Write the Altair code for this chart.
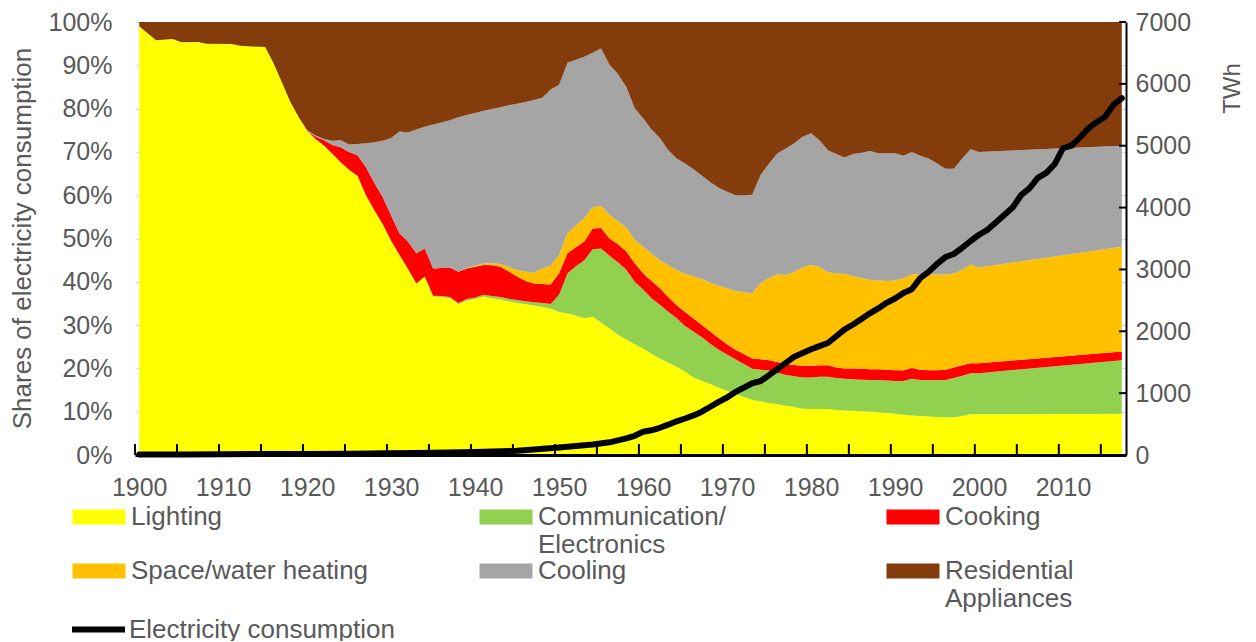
import altair as alt
import pandas as pd

# ---------------- data ----------------
years = [1900, 1902, 1904, 1905, 1907, 1908, 1911, 1912, 1915, 1916, 1917, 1918, 1919,
         1920, 1921, 1922, 1923, 1924, 1925, 1926, 1927, 1928, 1929,
         1930, 1931, 1932, 1933, 1934, 1935, 1936, 1937, 1938, 1939,
         1940, 1941, 1942, 1943, 1944, 1945, 1946, 1947, 1948, 1949,
         1950, 1951, 1952, 1953, 1954, 1955, 1956, 1957, 1958, 1959,
         1960, 1961, 1962, 1963, 1964, 1965, 1966, 1967, 1968, 1969,
         1970, 1971, 1972, 1973, 1974, 1975, 1976, 1977, 1978, 1979,
         1980, 1981, 1982, 1983, 1984, 1985, 1986, 1987, 1988, 1989,
         1990, 1991, 1992, 1993, 1994, 1995, 1996, 1997, 1998, 1999,
         2000, 2017]

lighting = [99.0, 95.8, 96.1, 95.3, 95.4, 95.0, 94.9, 94.5, 94.2, 90.5, 86.0, 81.5, 78.0,
            74.8, 73.0, 71.5, 69.6, 67.6, 65.8, 64.5, 60.0, 56.5, 53.3,
            49.5, 46.2, 43.0, 39.6, 41.2, 36.6, 36.5, 36.2, 34.8, 35.6,
            36.0, 36.6, 36.2, 35.9, 35.5, 35.1, 34.8, 34.5, 34.2, 33.8,
            33.0, 32.7, 32.2, 31.6, 31.9, 30.6, 29.3, 27.8, 26.7, 25.6,
            24.6, 23.4, 22.3, 21.3, 20.4, 19.2, 17.9, 17.1, 16.4, 15.6,
            14.8, 14.1, 13.4, 12.7, 12.4, 12.0, 11.7, 11.4, 11.1, 10.7,
            10.6, 10.6, 10.6, 10.4, 10.3, 10.2, 10.1, 10.0, 9.9, 9.7,
            9.5, 9.3, 9.1, 9.0, 8.9, 8.8, 8.7, 8.7, 9.0, 9.4,
            9.4, 9.5]

communication = [0, 0, 0, 0, 0, 0, 0, 0, 0, 0, 0, 0, 0,
                 0, 0, 0, 0, 0, 0, 0, 0, 0, 0,
                 0, 0, 0, 0, 0, 0.2, 0.2, 0.3, 0.3, 0.4,
                 0.4, 0.4, 0.5, 0.6, 0.6, 0.7, 0.7, 0.8, 0.9, 1.1,
                 4.0, 9.3, 11.4, 13.4, 15.6, 17.1, 16.7, 16.7, 16.1, 14.4,
                 13.6, 12.8, 12.4, 11.8, 11.2, 10.6, 10.6, 10.1, 9.3, 8.7,
                 8.4, 8.0, 7.6, 7.2, 7.3, 7.5, 7.3, 7.1, 7.1, 7.2,
                 7.3, 7.5, 7.5, 7.4, 7.3, 7.3, 7.3, 7.3, 7.4, 7.5,
                 7.6, 7.8, 8.5, 8.3, 8.4, 8.5, 8.6, 9.1, 9.3, 9.5,
                 9.5, 12.4]

cooking = [0, 0, 0, 0, 0, 0, 0, 0, 0, 0, 0, 0, 0,
           0, 0.5, 1.2, 2.0, 3.5, 4.2, 4.7, 6.5, 6.3, 6.3,
           5.8, 5.0, 6.3, 7.0, 6.5, 6.3, 6.5, 6.8, 7.2, 7.1,
           7.1, 6.9, 7.1, 7.0, 6.3, 5.4, 4.7, 4.3, 4.4, 4.5,
           5.0, 4.6, 4.4, 4.3, 4.8, 4.7, 4.0, 4.2, 4.2, 4.3,
           3.8, 4.0, 3.8, 3.4, 3.0, 3.2, 3.0, 2.8, 2.8, 2.7,
           2.4, 2.2, 2.3, 2.4, 2.4, 2.4, 2.5, 2.5, 2.6, 2.7,
           2.7, 2.6, 2.6, 2.4, 2.4, 2.5, 2.5, 2.5, 2.5, 2.5,
           2.5, 2.5, 2.5, 2.4, 2.3, 2.3, 2.4, 2.4, 2.4, 2.3,
           2.3, 2.0]

heating = [0, 0, 0, 0, 0, 0, 0, 0, 0, 0, 0, 0, 0,
           0, 0, 0, 0, 0, 0, 0, 0, 0, 0,
           0, 0, 0, 0, 0, 0, 0, 0, 0, 0.1,
           0.2, 0.3, 0.5, 0.6, 1.0, 1.5, 2.1, 2.5, 3.6, 4.3,
           4.2, 4.6, 5.0, 5.4, 4.9, 5.1, 5.5, 5.3, 5.5, 5.4,
           6.1, 6.3, 6.5, 7.3, 8.1, 8.8, 9.8, 10.6, 11.3, 12.1,
           12.9, 13.6, 14.3, 15.0, 17.7, 18.9, 20.2, 20.5, 21.5, 22.7,
           23.3, 22.7, 21.5, 21.8, 21.8, 21.3, 21.0, 20.6, 20.5, 20.5,
           20.7, 21.2, 21.6, 22.1, 22.1, 22.1, 22.0, 21.7, 22.0, 22.8,
           22.1, 24.2]

cooling = [0, 0, 0, 0, 0, 0, 0, 0, 0, 0, 0, 0, 0,
           0.2, 0.3, 0.3, 1.0, 1.6, 1.7, 2.6, 5.5, 9.4, 13.0,
           17.9, 23.5, 25.2, 28.6, 28.1, 33.2, 33.6, 34.0, 35.7, 35.3,
           35.3, 35.3, 35.6, 36.2, 37.4, 38.4, 39.2, 39.9, 39.4, 40.7,
           39.3, 39.4, 38.3, 37.3, 35.7, 36.4, 34.6, 34.0, 32.5, 30.4,
           29.7, 28.7, 28.2, 26.6, 25.8, 25.5, 24.7, 23.9, 23.2, 22.6,
           22.3, 22.1, 22.4, 22.8, 24.9, 26.5, 28.0, 29.3, 29.7, 30.2,
           30.4, 29.3, 28.2, 27.5, 26.9, 28.2, 28.9, 29.8, 29.4, 29.5,
           29.4, 28.3, 28.3, 27.3, 26.8, 25.6, 24.4, 24.2, 25.8, 26.6,
           26.7, 23.3]

appliances = [1.0, 4.2, 3.9, 4.7, 4.6, 5.0, 5.1, 5.5, 5.8, 9.5, 14.0, 18.5, 22.0,
              25.0, 26.2, 27.0, 27.4, 27.3, 28.3, 28.2, 28.0, 27.8, 27.4,
              26.8, 25.3, 25.5, 24.8, 24.2, 23.7, 23.2, 22.7, 22.0, 21.5,
              21.0, 20.5, 20.1, 19.7, 19.2, 18.9, 18.5, 18.0, 17.5, 15.6,
              14.5, 9.4, 8.7, 8.0, 7.1, 6.1, 9.9, 12.0, 15.0, 19.9,
              22.2, 24.8, 26.8, 29.6, 31.5, 32.7, 34.0, 35.5, 37.0, 38.3,
              39.2, 40.0, 40.0, 39.9, 35.3, 32.7, 30.3, 29.2, 28.0, 26.5,
              25.7, 27.3, 29.6, 30.5, 31.3, 30.5, 30.2, 29.8, 30.3, 30.3,
              30.3, 30.9, 30.0, 30.9, 31.5, 32.7, 33.9, 33.9, 31.5, 29.4,
              30.0, 28.6]

twh_years = [1900, 1905, 1910, 1915, 1920, 1925, 1930, 1935, 1940, 1945, 1947,
             1950, 1952, 1954, 1956, 1958, 1959,
             1960, 1961, 1962, 1963, 1964, 1965, 1966, 1967, 1968, 1969,
             1970, 1971, 1972, 1973, 1974, 1975, 1976, 1977, 1978, 1979,
             1980, 1981, 1982, 1983, 1984, 1985, 1986, 1987, 1988, 1989,
             1990, 1991, 1992, 1993, 1994, 1995, 1996, 1997, 1998, 1999,
             2000, 2001, 2002, 2003, 2004, 2005, 2006, 2007, 2008, 2009,
             2010, 2011, 2012, 2013, 2014, 2015, 2016, 2017]
twh = [8, 10, 12, 15, 18, 22, 28, 35, 50, 70, 88,
       120, 145, 170, 205, 270, 310,
       375, 400, 440, 490, 545, 590, 640, 700, 780, 860,
       930, 1020, 1090, 1160, 1195, 1290, 1390, 1490, 1590, 1650,
       1710, 1760, 1810, 1920, 2030, 2110, 2200, 2290, 2370, 2460,
       2530, 2620, 2680, 2860, 2960, 3090, 3200, 3250, 3350, 3460,
       3560, 3640, 3760, 3880, 4000, 4200, 4310, 4480, 4560, 4700,
       4960, 5000, 5130, 5280, 5380, 5470, 5660, 5770]

series_names = ["Lighting", "Communication/Electronics", "Cooking",
                "Space/water heating", "Cooling", "Residential Appliances"]
series_colors = ["#FFFF00", "#92D050", "#FF0000", "#FFC000", "#A5A5A5", "#843C0C"]
series_values = [lighting, communication, cooking, heating, cooling, appliances]

pct_ticks = [0, 10, 20, 30, 40, 50, 60, 70, 80, 90, 100]
twh_ticks = [0, 1000, 2000, 3000, 4000, 5000, 6000, 7000]
decade_labels = [1900, 1910, 1920, 1930, 1940, 1950, 1960, 1970, 1980, 1990, 2000, 2010]
x_tick_marks = [1899.5 + 5 * k for k in range(24)]

# ---------------- tables ----------------
rows = []
for i, (name, vals) in enumerate(zip(series_names, series_values)):
    for yr, v in zip(years, vals):
        rows.append({"year": yr, "series": name, "share": v, "order": i})
df_share = pd.DataFrame(rows)
df_twh = pd.DataFrame({"year": twh_years, "twh": twh, "label": "Electricity consumption"})
df_xt = pd.DataFrame({"year": x_tick_marks})
df_yt = pd.DataFrame({"twh": twh_ticks})

W, H = 991, 433
FONT = "Liberation Sans"
GREY = "#595959"
x_scale = alt.Scale(domain=[1899.5, 2017.5], nice=False, zero=False)

x_axis = alt.Axis(values=decade_labels, format="d", title=None, labelFontSize=25,
                  labelColor=GREY, labelPadding=20, tickSize=0, domainColor="black",
                  domainWidth=3, grid=False, labelFlush=False, labelOverlap=False, zindex=1)

label_expr = ("datum.label == 'Communication/Electronics' ? ['Communication/', 'Electronics'] : "
              "datum.label == 'Residential Appliances' ? ['Residential', 'Appliances'] : [datum.label, '']")

areas = alt.Chart(df_share).mark_area(opacity=1, strokeWidth=0).encode(
    x=alt.X("year:Q", scale=x_scale, axis=x_axis),
    y=alt.Y("share:Q", stack="zero",
            scale=alt.Scale(domain=[0, 100], nice=False),
            axis=alt.Axis(values=pct_ticks, labelExpr="datum.value + '%'", orient="left",
                          title="Shares of electricity consumption", titleFontSize=26,
                          titleFontWeight="normal", titleColor=GREY, titleX=-113, titleY=216,
                          titleAngle=270, titleAlign="center", titleBaseline="middle",
                          labelFontSize=25, labelColor=GREY, labelPadding=23, tickSize=0,
                          domain=False, gridColor="#d9d9d9")),
    color=alt.Color("series:N",
                    scale=alt.Scale(domain=series_names, range=series_colors),
                    legend=alt.Legend(title=None, orient="none", legendX=-49, legendY=482,
                                      direction="horizontal", columns=3, columnPadding=110,
                                      rowPadding=0, gridAlign="all", padding=0,
                                      symbolType="M-2.12,-0.6H2.12V0.6H-2.12Z", symbolSize=625,
                                      symbolStrokeWidth=0, symbolOpacity=1,
                                      labelFontSize=26, labelColor=GREY, labelFont=FONT,
                                      labelBaseline="middle", labelOffset=19, labelLimit=600,
                                      labelExpr=label_expr)),
    order=alt.Order("order:Q", sort="ascending"),
)

x_ticks = alt.Chart(df_xt).mark_rule(color="black", strokeWidth=2).encode(
    x=alt.X("year:Q", scale=x_scale, axis=x_axis),
    y=alt.value(H - 11),
    y2=alt.value(H),
)

line = alt.Chart(df_twh).mark_line(strokeWidth=6, strokeCap="round", strokeJoin="round").encode(
    x=alt.X("year:Q", scale=x_scale, axis=x_axis),
    y=alt.Y("twh:Q", scale=alt.Scale(domain=[0, 7000], nice=False),
            axis=alt.Axis(orient="right", values=twh_ticks, format="d", title="TWh",
                          titleFontSize=24, titleFontWeight="normal", titleColor=GREY,
                          titleAngle=270, titleX=106, titleY=66, titleAlign="center",
                          titleBaseline="middle", labelFontSize=25, labelColor=GREY,
                          labelPadding=9, tickSize=0, domainColor="black", domainWidth=2,
                          grid=False, zindex=1)),
    stroke=alt.Stroke("label:N", scale=alt.Scale(domain=["Electricity consumption"], range=["#000000"]),
                      legend=alt.Legend(title=None, orient="none", legendX=-66, legendY=578,
                                        padding=0, symbolType="stroke", symbolSize=2809,
                                        symbolStrokeWidth=6, labelFontSize=26, labelColor=GREY,
                                        labelFont=FONT, labelOffset=1, labelBaseline="middle",
                                        labelLimit=600)),
)

y_ticks = alt.Chart(df_yt).mark_rule(color="black", strokeWidth=2).encode(
    y=alt.Y("twh:Q", scale=alt.Scale(domain=[0, 7000], nice=False)),
    x=alt.value(W - 7),
    x2=alt.value(W),
)

left = alt.layer(areas, x_ticks)
right = alt.layer(line, y_ticks)

chart = alt.layer(left, right).resolve_scale(y="independent").properties(
    width=W, height=H,
    autosize=alt.AutoSizeParams(type="none"),
    padding={"left": 127, "top": 14, "right": 120, "bottom": 186},
).configure(font=FONT, style={"guide-label": {"lineHeight": 28}}).configure_view(stroke=None)

chart.save("out.html", embed_options={"renderer": "svg", "actions": False})
